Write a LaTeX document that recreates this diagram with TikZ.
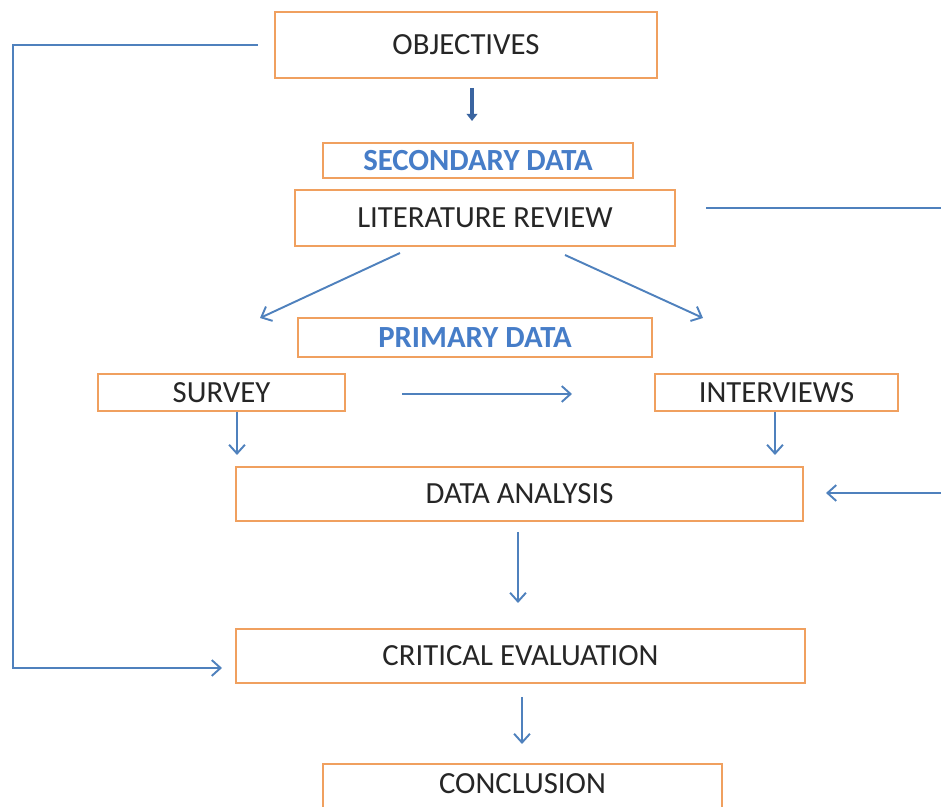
\documentclass[tikz,border=0pt]{standalone}
\usepackage{fontspec}
\setmainfont{Carlito}
\usetikzlibrary{arrows.meta}
\definecolor{boxorange}{RGB}{240,160,95}
\definecolor{lineblue}{RGB}{79,129,189}
\definecolor{darkblue}{RGB}{58,100,160}
\definecolor{textblue}{RGB}{70,125,200}
\begin{document}
\begin{tikzpicture}[x=0.02cm,y=-0.02cm,
  box/.style={draw=boxorange,line width=1.1pt,fill=white,inner sep=0pt,font=\fontsize{17.5}{19}\selectfont,text=black!85},
  conn/.style={draw=lineblue,line width=1.1pt,-{Straight Barb[length=5pt,width=9pt]}},
  bluetext/.style={text=textblue,font=\fontsize{17.5}{19}\selectfont\bfseries}]
\useasboundingbox (0,0) rectangle (941,807);
\clip (0,0) rectangle (941,807);
% boxes
\node[box,minimum width=382*0.02cm,minimum height=66*0.02cm] (obj) at (466,45) {OBJECTIVES};
\node[box,bluetext,minimum width=310*0.02cm,minimum height=35*0.02cm] (sec) at (478,160.5) {SECONDARY DATA};
\node[box,minimum width=380*0.02cm,minimum height=56*0.02cm] (lit) at (485,218) {LITERATURE REVIEW};
\node[box,bluetext,minimum width=354*0.02cm,minimum height=39*0.02cm] (pri) at (475,337.5) {PRIMARY DATA};
\node[box,minimum width=247*0.02cm,minimum height=37*0.02cm] (sur) at (221.5,392.5) {SURVEY};
\node[box,minimum width=243*0.02cm,minimum height=37*0.02cm] (int) at (776.5,392.5) {INTERVIEWS};
\node[box,minimum width=567*0.02cm,minimum height=54*0.02cm] (da) at (519.5,494) {DATA ANALYSIS};
\node[box,minimum width=569*0.02cm,minimum height=54*0.02cm] (ce) at (520.5,656) {CRITICAL EVALUATION};
\node[box,anchor=north,minimum width=399*0.02cm,text height=30*0.02cm,text depth=25*0.02cm] (con) at (522.5,763) {CONCLUSION};
% coordinates for connector ends
\coordinate (objL) at (258,45);
\coordinate (lc1) at (13,45);
\coordinate (lc2) at (13,668);
\coordinate (ceL) at (222,668);
\coordinate (litR) at (706,208);
\coordinate (rc1) at (960,208);
\coordinate (rc2) at (960,493);
\coordinate (daR) at (826,493);
% connectors
\draw[draw=darkblue,line width=2.2pt,-{Triangle[length=4pt,width=6pt]}] (472,88) -- (472,121);
\draw[conn] (400,253) -- (260,318);
\draw[conn] (565,255) -- (703,318);
\draw[conn] (402,394) -- (572,394);
\draw[conn] (sur.south -| 237,0) -- (237,455);
\draw[conn] (int.south -| 775,0) -- (775,455);
\draw[conn] (518,532) -- (518,603);
\draw[conn] (522,697) -- (522,744);
\draw[conn] (objL) -- (lc1) -- (lc2) -- (ceL);
\draw[conn] (litR) -- (rc1) -- (rc2) -- (daR);
\end{tikzpicture}
\end{document}
